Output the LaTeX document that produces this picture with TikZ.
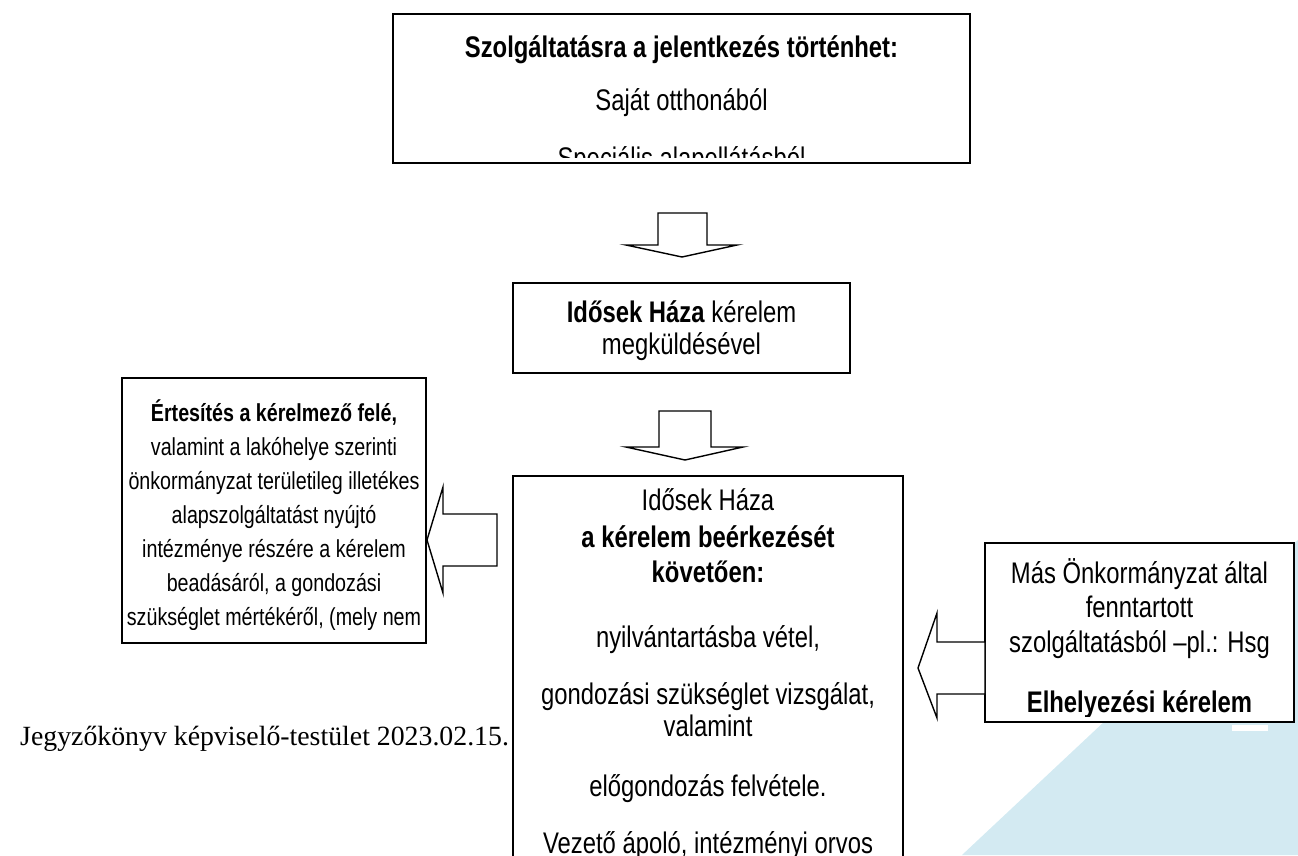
\documentclass[tikz,border=0pt]{standalone}
\usepackage{fontspec}
\setmainfont[FakeStretch=0.8]{Liberation Sans}
\newfontfamily\docserif{Liberation Serif}
\definecolor{decoblue}{HTML}{D3EAF2}
\begin{document}
\begin{tikzpicture}[x=1pt,y=-1pt,
  box/.style={draw=black,line width=1.8pt,fill=white,inner sep=0pt},
  blockarrow/.style={draw=black,line width=1.4pt,fill=white,line join=miter},
  tx/.style={anchor=base,inner sep=0pt,font=\fontsize{29.8}{34}\selectfont},
  txb/.style={anchor=base,inner sep=0pt,font=\fontsize{29.8}{34}\selectfont\bfseries},
  txs/.style={anchor=base,inner sep=0pt,font=\fontsize{24.6}{28}\selectfont},
  txsb/.style={anchor=base,inner sep=0pt,font=\fontsize{24.6}{28}\selectfont\bfseries}]
\useasboundingbox (0,0) rectangle (1298,855);
% background decoration
\fill[decoblue] (962,855) -- (1298,540) -- (1298,855) -- cycle;
\fill[white] (1232,725) rectangle (1268,731);
% boxes
\node[box,minimum width=577pt,minimum height=149pt] (topbox) at (681.5,88.5) {};
\node[box,minimum width=337pt,minimum height=90pt] (reqbox) at (681.5,328) {};
\node[box,minimum width=304pt,minimum height=265pt] (leftbox) at (274,510.5) {};
\node[box,minimum width=390pt,minimum height=440pt] (midbox) at (708,696) {};
\node[box,minimum width=309pt,minimum height=179pt] (rightbox) at (1139.5,632.5) {};
% block arrows
\draw[blockarrow] (658,213) -- (707,213) -- (707,245) -- (737,245) -- (682,257) -- (626,245) -- (658,245) -- cycle;
\draw[blockarrow] (659,411) -- (711,411) -- (711,447) -- (743,447) -- (685,460) -- (626,447) -- (659,447) -- cycle;
\draw[blockarrow] (497,514) -- (443,514) -- (443,487) -- (427,540) -- (443,593) -- (443,566) -- (497,566) -- cycle;
\draw[blockarrow] (985,642) -- (937,642) -- (937,613) -- (918,668) -- (937,718) -- (937,694) -- (985,694) -- cycle;
% top box text
\begin{scope}
\clip (395,16) rectangle (968,157);
\node[txb] (t1) at (681.5,57) {Szolgáltatásra a jelentkezés történhet:};
\node[tx] (t2) at (681.5,110) {Saját otthonából};
\node[tx] (t3) at (681.5,168) {Speciális alapellátásból};
\end{scope}
% request box text
\node[tx] (r1) at (681.5,322) {\textbf{Idősek Háza} kérelem};
\node[tx] (r2) at (681.5,354) {megküldésével};
% left box text
\begin{scope}
\clip (124,380) rectangle (424,629);
\node[txsb] (l1) at (274,421) {Értesítés a kérelmező felé,};
\node[txs] (l2) at (274,455) {valamint a lakóhelye szerinti};
\node[txs] (l3) at (274,489) {önkormányzat területileg illetékes};
\node[txs] (l4) at (274,523) {alapszolgáltatást nyújtó};
\node[txs] (l5) at (274,557) {intézménye részére a kérelem};
\node[txs] (l6) at (274,591) {beadásáról, a gondozási};
\node[txs] (l7) at (274,625) {szükséglet mértékéről, (mely nem};
\end{scope}
% middle box text
\node[tx] (m1) at (708,510) {Idősek Háza};
\node[txb] (m2) at (708,547) {a kérelem beérkezését};
\node[txb] (m3) at (708,582) {követően:};
\node[tx] (m4) at (708,647) {nyilvántartásba vétel,};
\node[tx] (m5) at (708,704) {gondozási szükséglet vizsgálat,};
\node[tx] (m6) at (708,736) {valamint};
\node[tx] (m7) at (708,796) {előgondozás felvétele.};
\node[tx] (m8) at (708,853) {Vezető ápoló, intézményi orvos};
% right box text
\begin{scope}
\clip (987,545) rectangle (1292,716);
\node[tx] (s1) at (1139.5,583) {Más Önkormányzat által};
\node[tx] (s2) at (1139.5,617) {fenntartott};
\node[tx] (s3) at (1139.5,652) {szolgáltatásból –pl.: Hsg};
\node[txb] (s4) at (1139.5,712) {Elhelyezési kérelem};
\end{scope}
% footer
\node[anchor=base west,inner sep=0pt,font=\docserif\fontsize{27.8}{31}\selectfont] (foot) at (20,745) {Jegyzőkönyv képviselő-testület 2023.02.15.};
\end{tikzpicture}
\end{document}
